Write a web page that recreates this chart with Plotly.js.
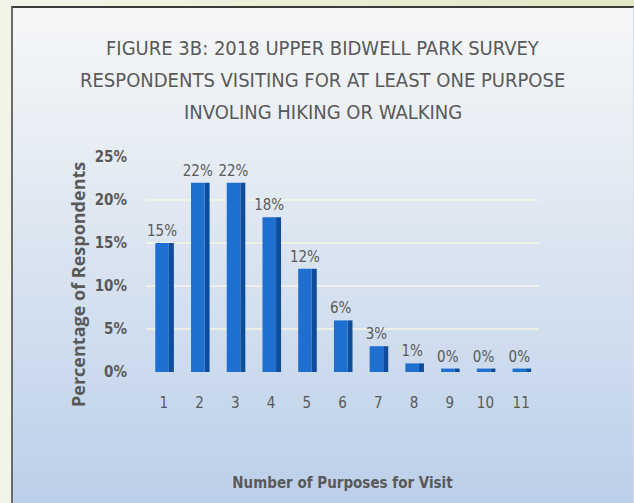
<!DOCTYPE html>
<html>
<head>
<meta charset="utf-8">
<script src="https://cdn.plot.ly/plotly-3.0.1.min.js"></script>
<style>
  html, body { margin: 0; padding: 0; }
  body { width: 634px; height: 503px; position: relative; overflow: hidden;
         background: #f3f4e8; }
  #band { position: absolute; left: 0; top: 0; width: 634px; height: 6px;
          background: linear-gradient(to right, #f4f5ea, #dfe8c2); }
  #frame { position: absolute; left: 11px; top: 6px; width: 620px; height: 497px;
           border-left: 2px solid #6b6b6b; border-top: 2px solid #3a3a3a;
           border-right: 1px solid #d6dde8;
           background: linear-gradient(to bottom, #f6f7f8 0%, #e9eef4 25%, #d3e0ef 60%, #bccfe9 100%); }
  #chart { position: absolute; left: 0; top: 0; width: 634px; height: 503px; }
</style>
</head>
<body>
<div id="band"></div>
<div id="frame"></div>
<div id="chart"></div>
<script>
// Number of purposes per visit and the share of respondents for each
const purposes = ['1', '2', '3', '4', '5', '6', '7', '8', '9', '10', '11'];
const shares = [15, 22, 22, 18, 12, 6, 3, 1, 0.4, 0.4, 0.4];
const shareLabels = ['15%', '22%', '22%', '18%', '12%', '6%', '3%', '1%', '0%', '0%', '0%'];
const yTicks = [0, 5, 10, 15, 20, 25];
const yTickLabels = ['0%', '5%', '10%', '15%', '20%', '25%'];

const titleLines = [
  'FIGURE 3B: 2018 UPPER BIDWELL PARK SURVEY',
  'RESPONDENTS VISITING FOR AT LEAST ONE PURPOSE',
  'INVOLING HIKING OR WALKING'
];
const yTitle = 'Percentage of Respondents';
const xTitle = 'Number of Purposes for Visit';

const narrow = 'Liberation Sans Narrow, DejaVu Sans Condensed, Open Sans, sans-serif';
const grey = '#595959';

// Front face of each column
const front = {
  type: 'bar', x: purposes, y: shares,
  width: 0.38, offset: -0.24,
  marker: { color: '#1f6fd1', line: { width: 0 } },
  text: shareLabels, textposition: 'outside', cliponaxis: false,
  constraintext: 'none',
  textfont: { family: narrow, size: 15, color: grey },
  hoverinfo: 'skip', showlegend: false
};

// Darker side face giving the columns some depth
const side = {
  type: 'bar', x: purposes, y: shares,
  width: 0.14, offset: 0.14,
  marker: { color: '#0e4d9c', line: { width: 0 } },
  hoverinfo: 'skip', showlegend: false
};

// Title, one line per annotation so the line spacing can be set
const titleRows = [48, 80, 112];
const annotations = titleLines.map((line, i) => ({
  text: line, showarrow: false,
  xref: 'paper', x: 0.45, xanchor: 'center',
  yref: 'paper', y: (372 - titleRows[i]) / 215, yanchor: 'middle',
  font: { family: narrow, size: 20, color: grey }
}));

// Vertical axis title, set a little lower than the plot's middle
annotations.push({
  text: '<b>' + yTitle + '</b>', showarrow: false, textangle: -90,
  xref: 'paper', x: (78 - 146) / 393, xanchor: 'center',
  yref: 'paper', y: (372 - 285) / 215, yanchor: 'middle',
  font: { family: 'Open Sans, DejaVu Sans, sans-serif', size: 18, color: grey }
});

const layout = {
  width: 634, height: 503, autosize: false,
  paper_bgcolor: 'rgba(0,0,0,0)', plot_bgcolor: 'rgba(0,0,0,0)',
  margin: { l: 146, r: 95, t: 157, b: 131 },
  barmode: 'overlay',
  annotations: annotations,
  xaxis: {
    type: 'category', range: [-0.5, 10.5],
    showgrid: false, zeroline: false, showline: false, ticks: '',
    ticklabelstandoff: 20,
    tickfont: { family: narrow, size: 15, color: grey },
    title: { text: '<b>' + xTitle + '</b>', standoff: 66,
             font: { family: narrow, size: 15, color: grey } }
  },
  yaxis: {
    range: [0, 25], tickvals: yTicks, ticktext: yTickLabels,
    showgrid: true, gridcolor: 'rgba(250,246,226,0.7)', gridwidth: 2,
    zeroline: false, showline: false, ticks: '',
    ticklabelstandoff: 18,
    tickfont: { family: narrow, size: 15, color: grey, weight: 'bold' }
  }
};

Plotly.newPlot('chart', [side, front], layout, { displayModeBar: false, staticPlot: true });
</script>
</body>
</html>
